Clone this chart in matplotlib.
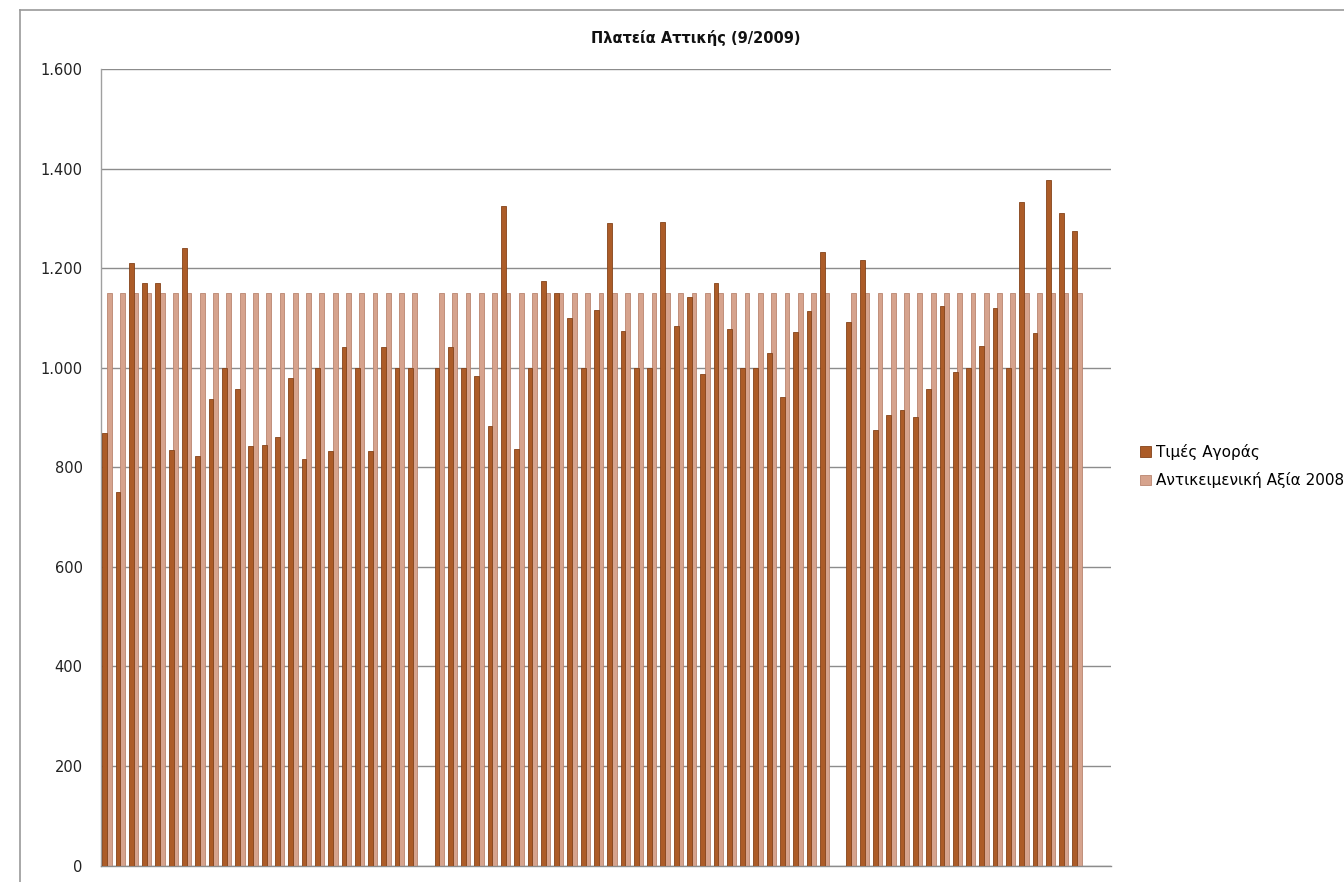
import numpy as np
import matplotlib
matplotlib.use("Agg")
import matplotlib.pyplot as plt
from matplotlib.ticker import FuncFormatter, MultipleLocator
from matplotlib.lines import Line2D

plt.rcParams['font.family'] = ['DejaVu Sans']

title = "Πλατεία Αττικής (9/2009)"
series_names = ["Τιμές Αγοράς", "Αντικειμενική Αξία 2008"]

nan = np.nan
# Purchase prices per property (empty slots separate the three blocks)
market_prices = [
    870, 750, 1210, 1170, 1170, 835, 1240, 822, 937, 1000, 958, 843,
    846, 861, 980, 817, 1000, 833, 1042, 1000, 833, 1042, 1000, 1000,
    nan,
    1000, 1042, 1000, 983, 883, 1326, 837, 1000, 1175, 1150, 1100, 1000,
    1116, 1291, 1074, 1000, 1000, 1293, 1085, 1143, 987, 1170, 1078, 1000,
    1000, 1030, 941, 1072, 1115, 1232,
    nan,
    1093, 1217, 875, 905, 915, 901, 958, 1124, 991, 1000, 1044, 1121,
    1000, 1334, 1070, 1378, 1312, 1275,
]
# Official (objective) value 2008, same for every property
objective_value = [nan if np.isnan(v) else 1150 for v in market_prices]
categories = list(range(1, len(market_prices) + 1))

dark = "#ac5c28"
dark_edge = "#84431a"
light = "#d6a38d"
light_edge = "#b98570"

fig = plt.figure(figsize=(13.44, 8.82), dpi=100)
ax = fig.add_axes([0.0749, 0.0187, 0.8266 - 0.0749, 0.9214 - 0.0187])

x = np.arange(len(categories))
w = 0.36
ax.bar(x + 0.17, objective_value, width=w, color=light, edgecolor=light_edge,
       linewidth=0.6, zorder=2, label=series_names[1])
ax.bar(x - 0.17, market_prices, width=w, color=dark, edgecolor=dark_edge,
       linewidth=0.6, zorder=3, label=series_names[0])

ax.set_xlim(-0.474, 75.55)
ax.set_ylim(0, 1600)
ax.yaxis.set_major_locator(MultipleLocator(200))
ax.yaxis.set_major_formatter(FuncFormatter(lambda v, p: f"{int(v):,}".replace(",", ".")))
ax.set_xticks([])
ax.tick_params(axis='y', length=0, pad=13, labelsize=10.5, labelcolor="#222222")
ax.grid(axis='y', color="#8c8c8c", linewidth=1.0, zorder=0)
ax.set_axisbelow(True)
for s in ("top", "right"):
    ax.spines[s].set_visible(False)
ax.spines["left"].set_color("#a0a0a0")
ax.spines["bottom"].set_color("#8c8c8c")
ax.spines["left"].set_linewidth(1.0)
ax.spines["bottom"].set_linewidth(1.0)

fig.text(591 / 1344, 1 - 38 / 882, title, ha="left", va="center", fontsize=10.5,
         fontweight="bold", color="#111111")

handles = [
    plt.Rectangle((0, 0), 1, 1, facecolor=dark, edgecolor=dark_edge, linewidth=0.6),
    plt.Rectangle((0, 0), 1, 1, facecolor=light, edgecolor=light_edge, linewidth=0.6),
]
fig.legend(handles, series_names, loc="center left",
           bbox_to_anchor=(1140 / 1344, 1 - 466 / 882), frameon=False, fontsize=11,
           handlelength=0.7, handleheight=0.7, handletextpad=0.35,
           labelspacing=0.85, borderaxespad=0, borderpad=0)

# outer chart-area border
fig.add_artist(Line2D([20 / 1344, 20 / 1344], [0, 1 - 10 / 882],
                      transform=fig.transFigure, color="#9a9a9a", linewidth=1.2))
fig.add_artist(Line2D([20 / 1344, 1], [1 - 10 / 882, 1 - 10 / 882],
                      transform=fig.transFigure, color="#9a9a9a", linewidth=1.2))

fig.savefig("out.png", dpi=100)
